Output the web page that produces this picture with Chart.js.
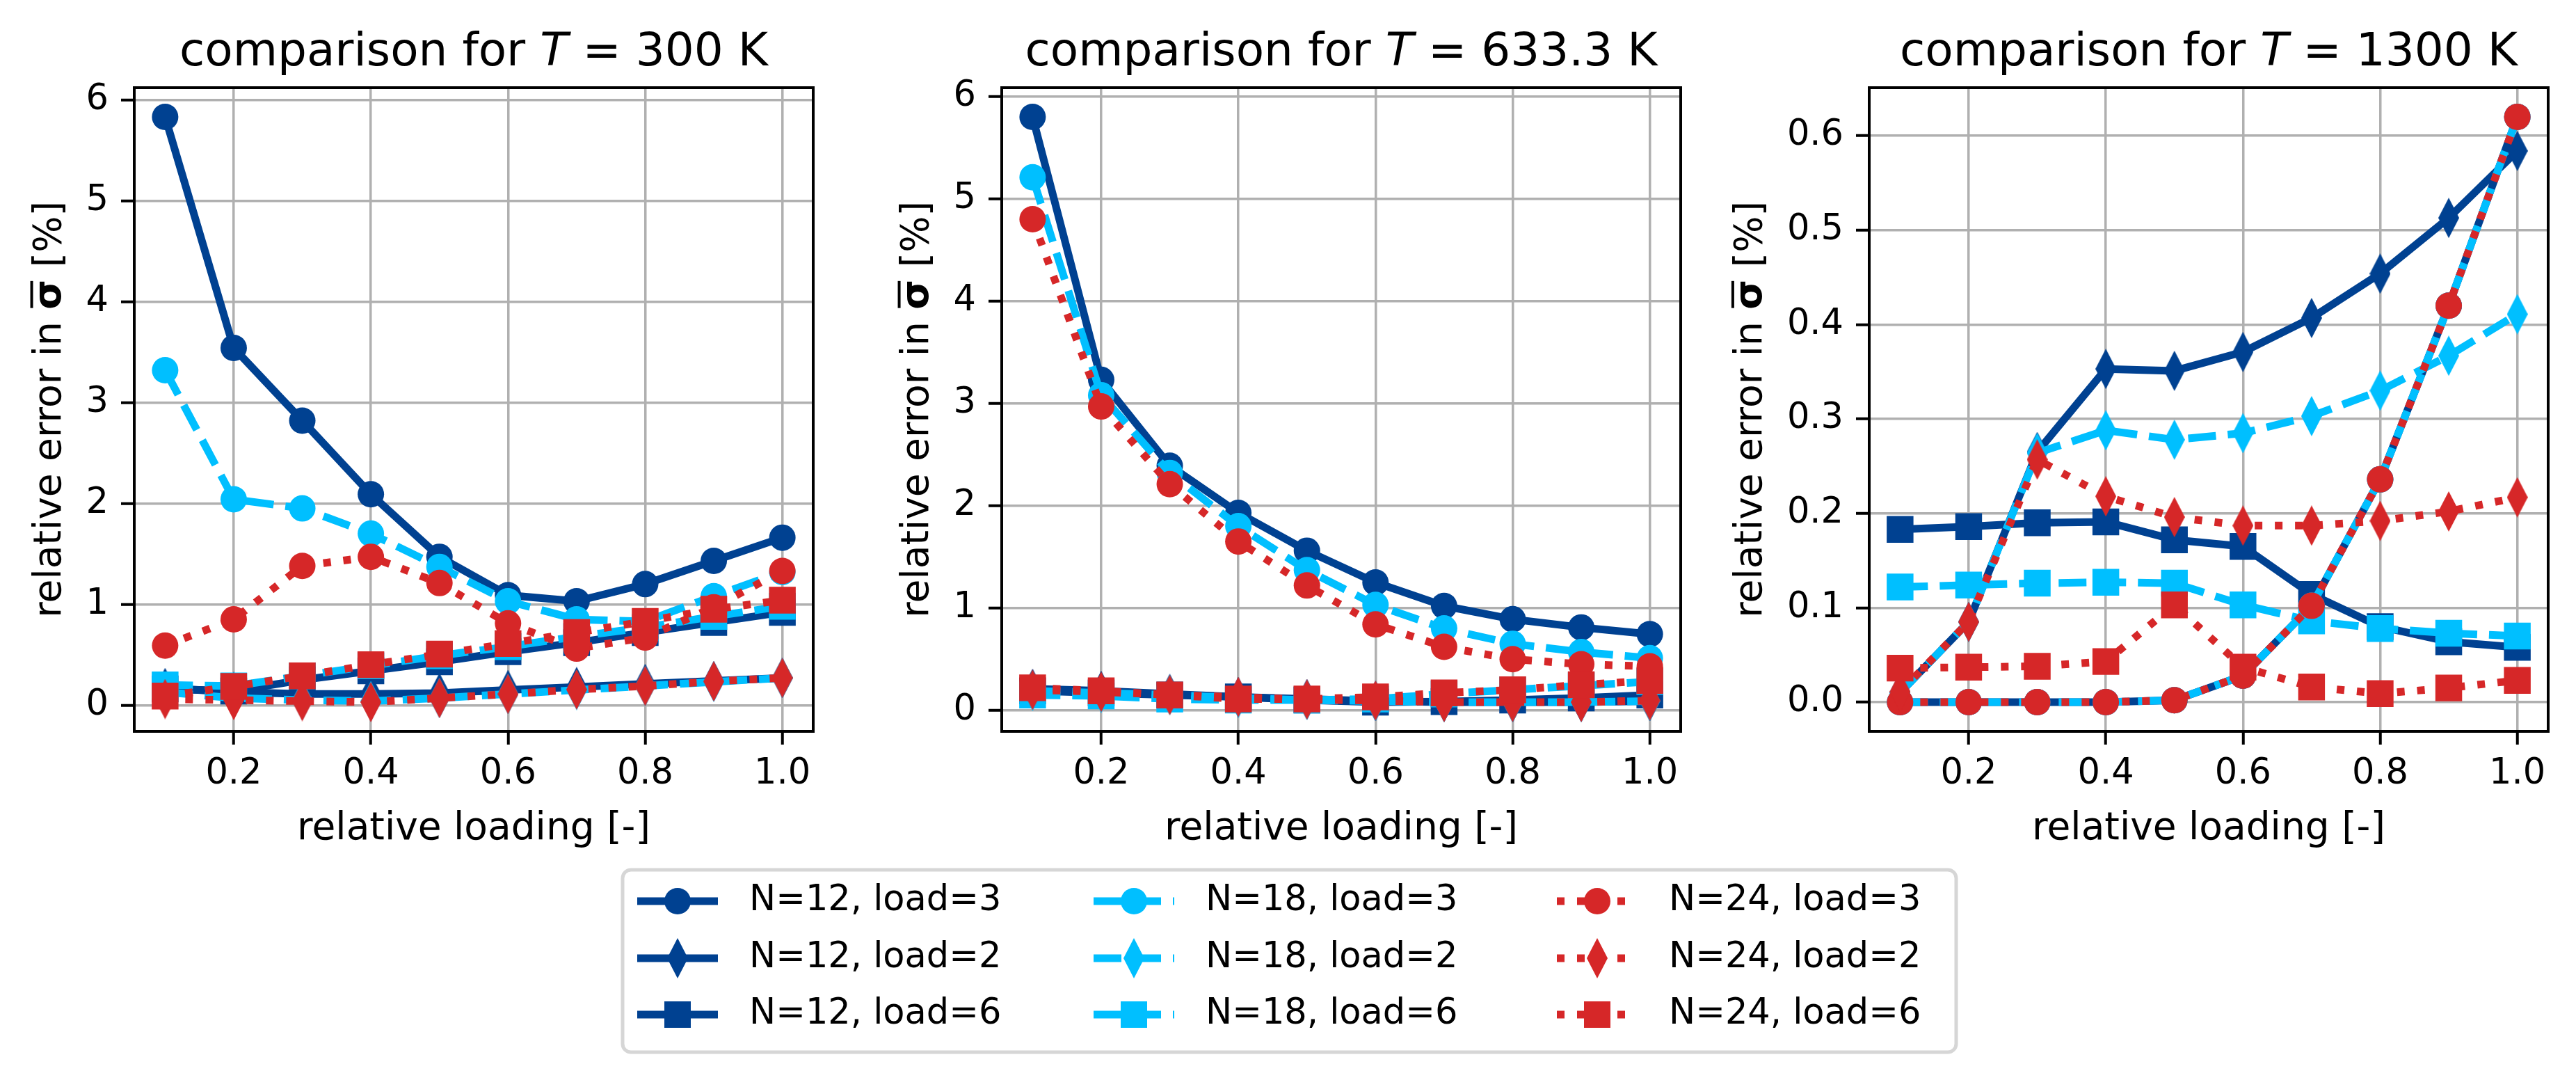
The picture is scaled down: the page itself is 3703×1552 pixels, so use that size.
<!DOCTYPE html>
<html>
<head>
<meta charset="utf-8">
<script src="https://cdn.jsdelivr.net/npm/chart.js@4.4.1/dist/chart.umd.min.js"></script>
<style>
  html, body { margin: 0; padding: 0; background: #fff; }
  body { width: 3703px; height: 1552px; position: relative; overflow: hidden; }
  canvas { position: absolute; }
</style>
</head>
<body>
<canvas id="c300"></canvas>
<canvas id="c633"></canvas>
<canvas id="c1300"></canvas>
<canvas id="legend"></canvas>
<script>
// ---- data ----
const loading = [0.1, 0.2, 0.3, 0.4, 0.5, 0.6, 0.7, 0.8, 0.9, 1.0];
const xTickValues = [0.2, 0.4, 0.6, 0.8, 1.0];
const xTickLabels = ['0.2', '0.4', '0.6', '0.8', '1.0'];
const yTickValues = [0, 1, 2, 3, 4, 5, 6];
const yTickLabels = ['0', '1', '2', '3', '4', '5', '6'];
const yTickValuesHot = [0, 0.1, 0.2, 0.3, 0.4, 0.5, 0.6];
const yTickLabelsHot = ['0.0', '0.1', '0.2', '0.3', '0.4', '0.5', '0.6'];
const temps = ['300', '633.3', '1300'];
const seriesNames = ['N=12, load=3', 'N=12, load=2', 'N=12, load=6',
                     'N=18, load=3', 'N=18, load=2', 'N=18, load=6',
                     'N=24, load=3', 'N=24, load=2', 'N=24, load=6'];

// T = 300 K
const t300_n12_load3 = [5.83, 3.54, 2.82, 2.09, 1.47, 1.09, 1.03, 1.20, 1.43, 1.66];
const t300_n12_load2 = [0.17, 0.13, 0.11, 0.11, 0.12, 0.15, 0.18, 0.21, 0.24, 0.27];
const t300_n12_load6 = [0.16, 0.14, 0.25, 0.34, 0.43, 0.53, 0.62, 0.72, 0.82, 0.92];
const t300_n18_load3 = [3.32, 2.04, 1.95, 1.70, 1.37, 1.03, 0.85, 0.83, 1.08, 1.32];
const t300_n18_load2 = [0.13, 0.07, 0.05, 0.04, 0.07, 0.11, 0.15, 0.19, 0.23, 0.27];
const t300_n18_load6 = [0.20, 0.19, 0.29, 0.39, 0.49, 0.58, 0.68, 0.77, 0.88, 0.98];
const t300_n24_load3 = [0.59, 0.85, 1.38, 1.47, 1.21, 0.81, 0.56, 0.67, 0.97, 1.33];
const t300_n24_load2 = [0.06, 0.05, 0.04, 0.03, 0.07, 0.11, 0.155, 0.19, 0.235, 0.27];
const t300_n24_load6 = [0.09, 0.185, 0.29, 0.40, 0.505, 0.61, 0.72, 0.83, 0.95, 1.04];

// T = 633.3 K
const t633_n12_load3 = [5.80, 3.23, 2.39, 1.93, 1.56, 1.25, 1.02, 0.89, 0.81, 0.745];
const t633_n12_load2 = [0.21, 0.19, 0.16, 0.13, 0.11, 0.09, 0.08, 0.08, 0.08, 0.09];
const t633_n12_load6 = [0.19, 0.17, 0.15, 0.13, 0.10, 0.08, 0.085, 0.10, 0.12, 0.15];
const t633_n18_load3 = [5.21, 3.08, 2.32, 1.80, 1.37, 1.03, 0.80, 0.65, 0.57, 0.51];
const t633_n18_load2 = [0.19, 0.17, 0.15, 0.12, 0.10, 0.09, 0.08, 0.08, 0.08, 0.09];
const t633_n18_load6 = [0.15, 0.14, 0.11, 0.10, 0.10, 0.11, 0.16, 0.20, 0.24, 0.28];
const t633_n24_load3 = [4.80, 2.97, 2.21, 1.65, 1.22, 0.84, 0.62, 0.50, 0.45, 0.43];
const t633_n24_load2 = [0.20, 0.18, 0.15, 0.13, 0.105, 0.095, 0.08, 0.08, 0.08, 0.095];
const t633_n24_load6 = [0.22, 0.19, 0.15, 0.11, 0.11, 0.13, 0.17, 0.20, 0.25, 0.29];

// T = 1300 K
const t1300_n12_load3 = [0.0, 0.0, 0.0, 0.0, 0.002, 0.028, 0.102, 0.236, 0.42, 0.62];
const t1300_n12_load2 = [0.01, 0.085, 0.265, 0.353, 0.351, 0.371, 0.407, 0.454, 0.513, 0.584];
const t1300_n12_load6 = [0.183, 0.186, 0.19, 0.191, 0.172, 0.165, 0.114, 0.08, 0.064, 0.058];
const t1300_n18_load3 = [0.0, 0.0, 0.0, 0.0, 0.002, 0.028, 0.102, 0.236, 0.42, 0.62];
const t1300_n18_load2 = [0.01, 0.085, 0.264, 0.288, 0.278, 0.285, 0.303, 0.330, 0.367, 0.411];
const t1300_n18_load6 = [0.122, 0.124, 0.126, 0.127, 0.126, 0.103, 0.086, 0.078, 0.073, 0.07];
const t1300_n24_load3 = [0.0, 0.0, 0.0, 0.0, 0.002, 0.028, 0.102, 0.236, 0.42, 0.62];
const t1300_n24_load2 = [0.011, 0.085, 0.257, 0.218, 0.196, 0.187, 0.187, 0.192, 0.202, 0.217];
const t1300_n24_load6 = [0.036, 0.037, 0.038, 0.043, 0.103, 0.037, 0.016, 0.009, 0.015, 0.023];

// ---- styles ----
const DARK = '#004191', CYAN = '#00bfff', RED = '#d62728';
const FONT = '"DejaVu Sans"';
const LW = 11;
const lineStyles = [
  { color: DARK, dash: [] },
  { color: CYAN, dash: [40, 17] },
  { color: RED, dash: [11, 18] }
];
const PLOT_TOP = 126, PLOT_BOTTOM = 1051, PLOT_W = 976, Y_W = 220, CANVAS_H = 1240;
const plotLefts = [193, 1440, 2687];

function makeDiamond(color) {
  const c = document.createElement('canvas');
  c.width = 30; c.height = 58;
  const g = c.getContext('2d');
  g.fillStyle = color;
  g.beginPath();
  g.moveTo(15, 0); g.lineTo(30, 29); g.lineTo(15, 58); g.lineTo(0, 29);
  g.closePath(); g.fill();
  return c;
}

function markerFor(i, color) {
  const load = i % 3;   // 0: load=3 circle, 1: load=2 diamond, 2: load=6 square
  if (load === 0) return { pointStyle: 'circle', pointRadius: 19 };
  if (load === 1) return { pointStyle: makeDiamond(color), pointRadius: 19 };
  return { pointStyle: 'rect', pointRadius: 27.2 };
}

function buildDatasets(series) {
  return series.map((vals, i) => {
    const st = lineStyles[Math.floor(i / 3)];
    const mk = markerFor(i, st.color);
    return {
      label: seriesNames[i],
      data: loading.map((x, j) => ({ x: x, y: vals[j] })),
      borderColor: st.color,
      backgroundColor: st.color,
      borderWidth: LW,
      borderDash: st.dash,
      borderCapStyle: 'butt',
      borderJoinStyle: 'round',
      pointBackgroundColor: st.color,
      pointBorderWidth: 0,
      pointStyle: mk.pointStyle,
      pointRadius: mk.pointRadius,
      pointHoverRadius: mk.pointRadius,
      tension: 0,
      fill: false,
      clip: false,
      order: 100 - i
    };
  });
}

// titles, axis labels and frame
const decor = {
  id: 'decor',
  afterDatasetsDraw(chart) {
    const { ctx, chartArea: a } = chart;
    ctx.save();
    ctx.strokeStyle = '#000';
    ctx.lineWidth = 4;
    ctx.strokeRect(a.left, a.top, a.right - a.left, a.bottom - a.top);
    ctx.restore();
  },
  afterDraw(chart, args, opts) {
    const { ctx, chartArea: a } = chart;
    const cx = (a.left + a.right) / 2;
    ctx.save();
    ctx.fillStyle = '#000';
    ctx.textBaseline = 'alphabetic';

    // title with italic T
    const parts = [
      ['comparison for ', '66px ' + FONT],
      ['T', 'oblique 66px ' + FONT],
      [' = ' + opts.temp + ' K', '66px ' + FONT]
    ];
    let total = 0;
    parts.forEach(p => { ctx.font = p[1]; total += ctx.measureText(p[0]).width; });
    let x = cx - total / 2;
    ctx.textAlign = 'left';
    parts.forEach(p => { ctx.font = p[1]; ctx.fillText(p[0], x, 94); x += ctx.measureText(p[0]).width; });

    // x label
    ctx.font = '55px ' + FONT;
    ctx.textAlign = 'center';
    ctx.fillText('relative loading [-]', cx, 1206);

    // y label with bold overlined sigma
    ctx.font = '51px ' + FONT;
    let maxW = 0;
    opts.yLabels.forEach(l => { maxW = Math.max(maxW, ctx.measureText(l).width); });
    const baseX = a.left - 19 - 18 - maxW - 37;
    ctx.translate(baseX, (a.top + a.bottom) / 2);
    ctx.rotate(-Math.PI / 2);
    const yparts = [
      ['relative error in ', '55px ' + FONT],
      ['σ', 'bold 55px ' + FONT],
      [' [%]', '55px ' + FONT]
    ];
    total = 0;
    yparts.forEach(p => { ctx.font = p[1]; total += ctx.measureText(p[0]).width; });
    x = -total / 2;
    ctx.textAlign = 'left';
    yparts.forEach((p, k) => {
      ctx.font = p[1];
      const w = ctx.measureText(p[0]).width;
      ctx.fillText(p[0], x, 0);
      if (k === 1) {
        ctx.fillRect(x + 2, -43, w - 4, 4);
      }
      x += w;
    });
    ctx.restore();
  }
};

function yRange(series) {
  const all = [].concat(...series);
  const lo = Math.min(...all), hi = Math.max(...all);
  const m = 0.05 * (hi - lo);
  return [lo - m, hi + m];
}

function makePanel(id, idx, series, yVals, yLabels) {
  const cv = document.getElementById(id);
  cv.width = Y_W + PLOT_W + 30;
  cv.height = CANVAS_H;
  cv.style.left = (plotLefts[idx] - Y_W) + 'px';
  cv.style.top = '0px';
  const [ymin, ymax] = yRange(series);
  return new Chart(cv.getContext('2d'), {
    type: 'line',
    data: { datasets: buildDatasets(series) },
    options: {
      responsive: false,
      devicePixelRatio: 1,
      animation: false,
      events: [],
      layout: { padding: { left: 0, right: 30, top: PLOT_TOP, bottom: 0 } },
      scales: {
        x: {
          type: 'linear',
          min: 0.055,
          max: 1.045,
          afterBuildTicks: (axis) => { axis.ticks = xTickValues.map(v => ({ value: v })); },
          afterFit: (axis) => { axis.height = CANVAS_H - PLOT_BOTTOM; },
          ticks: {
            autoSkip: false,
            maxRotation: 0,
            padding: 12,
            color: '#000',
            font: { family: 'DejaVu Sans', size: 51 },
            callback: (v, i) => xTickLabels[i]
          },
          grid: { color: '#b0b0b0', lineWidth: 3.5, tickColor: '#000', tickWidth: 4, tickLength: 19 },
          border: { display: true, color: '#000', width: 4 }
        },
        y: {
          type: 'linear',
          min: ymin,
          max: ymax,
          afterBuildTicks: (axis) => { axis.ticks = yVals.map(v => ({ value: v })); },
          afterFit: (axis) => { axis.width = Y_W; },
          ticks: {
            autoSkip: false,
            padding: 18,
            color: '#000',
            font: { family: 'DejaVu Sans', size: 51 },
            callback: (v, i) => yLabels[i]
          },
          grid: { color: '#b0b0b0', lineWidth: 3.5, tickColor: '#000', tickWidth: 4, tickLength: 19 },
          border: { display: true, color: '#000', width: 4 }
        }
      },
      plugins: {
        legend: { display: false },
        title: { display: false },
        tooltip: { enabled: false },
        decor: { temp: temps[idx], yLabels: yLabels }
      }
    },
    plugins: [decor]
  });
}

makePanel('c300', 0, [t300_n12_load3, t300_n12_load2, t300_n12_load6,
                      t300_n18_load3, t300_n18_load2, t300_n18_load6,
                      t300_n24_load3, t300_n24_load2, t300_n24_load6], yTickValues, yTickLabels);
makePanel('c633', 1, [t633_n12_load3, t633_n12_load2, t633_n12_load6,
                      t633_n18_load3, t633_n18_load2, t633_n18_load6,
                      t633_n24_load3, t633_n24_load2, t633_n24_load6], yTickValues, yTickLabels);
makePanel('c1300', 2, [t1300_n12_load3, t1300_n12_load2, t1300_n12_load6,
                       t1300_n18_load3, t1300_n18_load2, t1300_n18_load6,
                       t1300_n24_load3, t1300_n24_load2, t1300_n24_load6], yTickValuesHot, yTickLabelsHot);

// ---- shared legend below the panels ----
(function drawLegend() {
  const cv = document.getElementById('legend');
  const top = 1230;
  cv.width = 3703; cv.height = 1552 - top;
  cv.style.left = '0px'; cv.style.top = top + 'px';
  const g = cv.getContext('2d');
  g.translate(0, -top);

  // frame
  const bx = 895, by = 1250, bw = 1917, bh = 262, r = 12;
  g.beginPath();
  g.moveTo(bx + r, by);
  g.arcTo(bx + bw, by, bx + bw, by + bh, r);
  g.arcTo(bx + bw, by + bh, bx, by + bh, r);
  g.arcTo(bx, by + bh, bx, by, r);
  g.arcTo(bx, by, bx + bw, by, r);
  g.closePath();
  g.fillStyle = 'rgba(255,255,255,0.8)';
  g.fill();
  g.strokeStyle = '#d6d6d6';
  g.lineWidth = 5;
  g.stroke();

  const colX = [974, 1630, 2296];
  const rowY = [1295, 1377, 1458];
  seriesNames.forEach((name, k) => {
    const st = lineStyles[Math.floor(k / 3)];
    const cx = colX[Math.floor(k / 3)], cy = rowY[k % 3];
    g.save();
    g.strokeStyle = st.color;
    g.lineWidth = LW;
    g.lineCap = 'butt';
    g.setLineDash(st.dash);
    g.beginPath();
    g.moveTo(cx - 58, cy); g.lineTo(cx + 58, cy);
    g.stroke();
    g.restore();

    g.fillStyle = st.color;
    const load = k % 3;
    if (load === 0) {
      g.beginPath(); g.arc(cx, cy, 19, 0, Math.PI * 2); g.fill();
    } else if (load === 1) {
      const d = makeDiamond(st.color);
      g.drawImage(d, cx - d.width / 2, cy - d.height / 2);
    } else {
      g.fillRect(cx - 19, cy - 19, 38, 38);
    }

    g.fillStyle = '#000';
    g.font = '51px ' + FONT;
    g.textAlign = 'left';
    g.textBaseline = 'middle';
    g.fillText(name, cx + 103, cy);
  });
})();
</script>
</body>
</html>
